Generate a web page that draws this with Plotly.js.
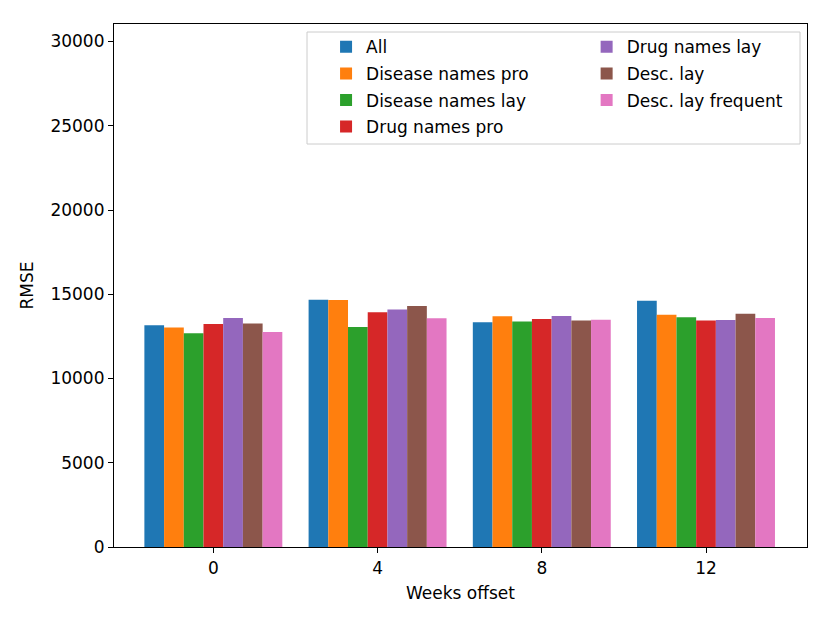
<!DOCTYPE html>
<html>
<head>
<meta charset="utf-8">
<script src="https://cdn.plot.ly/plotly-3.0.1.min.js"></script>
<style>
  body { margin: 0; background: #fff; }
  #plot { width: 830px; height: 623px; }
</style>
</head>
<body>
<div id="plot"></div>
<script>
// weeks offset on the x axis
var weeks = [0, 4, 8, 12];
var yTicks = [0, 5000, 10000, 15000, 20000, 25000, 30000];

// RMSE per feature set
var all = [13160, 14680, 13340, 14620];
var diseasePro = [13020, 14660, 13690, 13790];
var diseaseLay = [12680, 13060, 13390, 13630];
var drugPro = [13230, 13930, 13530, 13450];
var drugLay = [13590, 14100, 13710, 13470];
var descLay = [13270, 14300, 13450, 13850];
var descLayFreq = [12760, 13570, 13490, 13590];

var names = ["All", "Disease names pro", "Disease names lay", "Drug names pro",
             "Drug names lay", "Desc. lay", "Desc. lay frequent"];
var series = [all, diseasePro, diseaseLay, drugPro, drugLay, descLay, descLayFreq];
var colors = ["#1f77b4", "#ff7f0e", "#2ca02c", "#d62728", "#9467bd", "#8c564b", "#e377c2"];

var data = series.map(function (ys, i) {
  return {
    x: weeks,
    y: ys,
    name: names[i],
    legendgroup: names[i],
    type: "bar",
    marker: { color: colors[i], line: { width: 0 } },
    legend: i < 4 ? "legend" : "legend2",
    hoverinfo: "x+y+name"
  };
});

var font = { family: "DejaVu Sans", size: 17, color: "#000" };

var legendStyle = {
  bgcolor: "rgba(0,0,0,0)",
  borderwidth: 0,
  font: font,
  yanchor: "top",
  y: 0.99,
  xanchor: "left",
  tracegroupgap: 1.5,
  itemwidth: 30
};

var layout = {
  width: 830,
  height: 623,
  margin: { l: 114, r: 23, t: 24, b: 76 },
  paper_bgcolor: "#fff",
  plot_bgcolor: "#fff",
  font: font,
  barmode: "group",
  bargap: 0.16,
  bargroupgap: 0,
  showlegend: true,
  legend: Object.assign({}, legendStyle, { x: 0.306 }),
  legend2: Object.assign({}, legendStyle, { x: 0.682 }),
  xaxis: {
    range: [-2.42, 14.46],
    tickvals: weeks,
    ticktext: weeks.map(String),
    ticks: "outside",
    ticklen: 5,
    tickcolor: "#000",
    showline: true,
    mirror: true,
    linecolor: "#000",
    linewidth: 1.2,
    showgrid: false,
    zeroline: false,
    title: { text: "Weeks offset", font: font, standoff: 10 }
  },
  yaxis: {
    range: [0, 31040],
    tickvals: yTicks,
    ticktext: yTicks.map(String),
    ticks: "outside",
    ticklen: 5,
    tickcolor: "#000",
    showline: true,
    mirror: true,
    linecolor: "#000",
    linewidth: 1.2,
    showgrid: false,
    zeroline: false,
    title: { text: "RMSE", font: font, standoff: 12 }
  },
  shapes: [{
    type: "rect",
    xref: "paper", yref: "paper",
    x0: (307 - 114) / 693, x1: (800 - 114) / 693,
    y0: (547 - 144) / 523, y1: (547 - 32) / 523,
    line: { color: "#ccc", width: 1 },
    fillcolor: "rgba(255,255,255,0.8)",
    layer: "above"
  }]
};

Plotly.newPlot("plot", data, layout, { displayModeBar: false });
</script>
</body>
</html>
